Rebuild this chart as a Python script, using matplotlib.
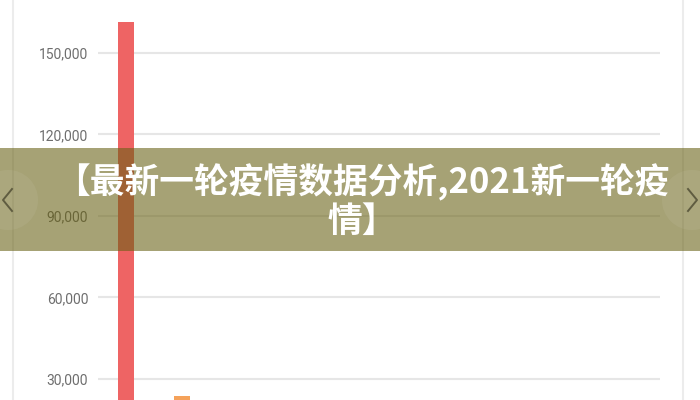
import matplotlib.pyplot as plt
from matplotlib.patches import Rectangle, Circle
from matplotlib.lines import Line2D

# values (only the first two bars are visible)
categories = ['A', 'B']
values = [161400, 23700]
bar_colors = ['#EE6464', '#F5A25A']
y_ticks = [30000, 60000, 90000, 120000, 150000]
y_tick_labels = ['30,000', '60,000', '90,000', '120,000', '150,000']
banner_text = '【最新一轮疫情数据分析,2021新一轮疫\n情】'

plt.rcParams['font.family'] = ['Noto Sans CJK SC', 'DejaVu Sans']

fig = plt.figure(figsize=(7, 4), dpi=100)
fig.patch.set_facecolor('white')

# chart area, it runs past the bottom of the screenshot
ax = fig.add_axes([98 / 700, 0, 562 / 700, 1])
ax.bar(range(len(categories)), values, width=0.29, color=bar_colors, zorder=3)
ax.set_xlim(-0.5, 9.5)
ax.set_ylim(22270, 169500)
ax.set_yticks(y_ticks)
ax.set_yticklabels(y_tick_labels, color='#6e6e6e', fontsize=10, family=['Roboto', 'DejaVu Sans'])
ax.set_xticks([])
ax.tick_params(axis='y', length=0, pad=7)
ax.grid(axis='y', color='#e6e6e6', linewidth=1.5, zorder=0)
for s in ax.spines.values():
    s.set_visible(False)

# card borders
fig.add_artist(Line2D([13 / 700, 13 / 700], [0, 1], color='#ececec', linewidth=1.5))
fig.add_artist(Line2D([683 / 700, 683 / 700], [0, 1], color='#ececec', linewidth=1.5))

# title banner on top of the chart
fig.add_artist(Rectangle((0, 1 - 251 / 400), 1, 103 / 400, transform=fig.transFigure,
                         facecolor='#676012', alpha=0.58, edgecolor='none', zorder=10))

# carousel buttons (pixel coords, y measured from bottom)
for cx, d in [(8, -1), (692, 1)]:
    fig.add_artist(Circle((cx, 200), 30, transform=None,
                          facecolor='white', alpha=0.06, edgecolor='#bdb995', linewidth=0.6, zorder=11))
    fig.add_artist(Line2D([cx - 4 * d, cx + 5 * d, cx - 4 * d], [211, 200, 189], transform=None,
                          color='#5f5c40', linewidth=1.4, zorder=12))

fig.text(0.517, 0.497, banner_text, color='white', fontsize=25, fontweight='bold',
         ha='center', va='center', linespacing=1.12, zorder=12)

fig.savefig('out.png', dpi=100)
